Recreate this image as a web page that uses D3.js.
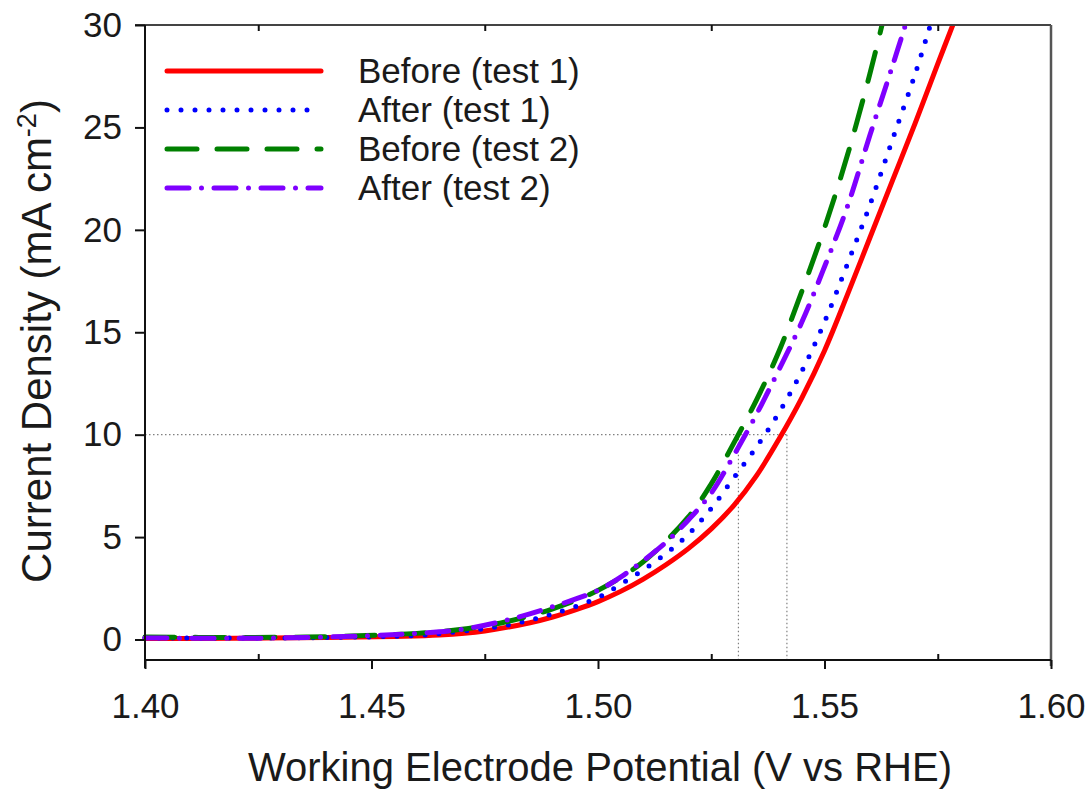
<!DOCTYPE html>
<html>
<head>
<meta charset="utf-8">
<script src="https://cdn.jsdelivr.net/npm/d3@7"></script>
<style>
  html, body { margin: 0; padding: 0; background: #fff; }
  svg { display: block; font-family: "Liberation Sans", Arial, sans-serif; }
</style>
</head>
<body>
<svg id="chart" width="1088" height="791"></svg>
<script>
// Polarisation curves: potential (V vs RHE) and current density (mA cm^-2)
const seriesNames = ["Before (test 1)", "After (test 1)", "Before (test 2)", "After (test 2)"];
const seriesColors = ["#ff0000", "#0000ff", "#008000", "#7f00ff"];

const beforeTest1V = [1.400, 1.420, 1.440, 1.455, 1.465, 1.475, 1.485, 1.490, 1.495, 1.500, 1.505, 1.510, 1.515, 1.520, 1.525, 1.530, 1.535, 1.540, 1.545, 1.550, 1.555, 1.560, 1.565, 1.570, 1.575, 1.5785];
const beforeTest1J = [0.05, 0.06, 0.10, 0.15, 0.22, 0.42, 0.82, 1.10, 1.45, 1.85, 2.35, 2.95, 3.65, 4.45, 5.40, 6.55, 8.00, 9.80, 11.8, 14.1, 16.8, 19.6, 22.4, 25.2, 28.1, 30.1];

const afterTest1V = [1.400, 1.420, 1.440, 1.460, 1.470, 1.480, 1.490, 1.500, 1.505, 1.510, 1.515, 1.520, 1.525, 1.530, 1.535, 1.540, 1.545, 1.550, 1.555, 1.560, 1.565, 1.570, 1.5735];
const afterTest1J = [0.08, 0.07, 0.10, 0.20, 0.40, 0.70, 1.25, 2.05, 2.70, 3.40, 4.20, 5.15, 6.40, 7.90, 9.40, 11.1, 13.1, 15.5, 18.3, 21.2, 24.4, 27.6, 30.1];

const beforeTest2V = [1.400, 1.420, 1.440, 1.460, 1.470, 1.480, 1.490, 1.500, 1.510, 1.520, 1.525, 1.530, 1.535, 1.540, 1.545, 1.550, 1.555, 1.560, 1.5628];
const beforeTest2J = [0.12, 0.10, 0.14, 0.30, 0.50, 0.88, 1.50, 2.40, 3.80, 6.00, 7.60, 9.60, 11.7, 14.1, 17.0, 20.1, 23.6, 27.6, 30.1];

const afterTest2V = [1.400, 1.420, 1.440, 1.460, 1.470, 1.480, 1.490, 1.500, 1.505, 1.510, 1.515, 1.520, 1.525, 1.530, 1.535, 1.540, 1.545, 1.550, 1.555, 1.560, 1.565, 1.568];
const afterTest2J = [0.08, 0.06, 0.12, 0.30, 0.50, 0.95, 1.60, 2.40, 3.05, 3.85, 4.75, 5.85, 7.15, 9.00, 11.0, 13.2, 15.5, 18.2, 21.1, 24.6, 28.0, 30.1];

// Potentials read at 10 mA cm^-2
const refPotentials = [1.531, 1.5417];
const refCurrent = 10;

const xTicks = [1.40, 1.45, 1.50, 1.55, 1.60];
const xMinorTicks = [1.425, 1.475, 1.525, 1.575];
const yTicks = [0, 5, 10, 15, 20, 25, 30];

const seriesV = [beforeTest1V, afterTest1V, beforeTest2V, afterTest2V];
const seriesJ = [beforeTest1J, afterTest1J, beforeTest2J, afterTest2J];
const dashes = [null, "0 14", "30 20", "22 12.5 0 12.5"];

const svg = d3.select("#chart");
const plotL = 145, plotR = 1051, plotT = 25, plotB = 660;

const x = d3.scaleLinear().domain([1.40, 1.60]).range([plotL, plotR]);
const y = d3.scaleLinear().domain([-1, 30]).range([plotB, plotT]);

svg.append("defs").append("clipPath").attr("id", "plot")
  .append("rect").attr("x", plotL - 8).attr("y", plotT).attr("width", plotR - plotL + 8).attr("height", plotB - plotT);

// Dotted guide lines at 10 mA cm^-2
const guides = svg.append("g").attr("stroke", "#808080").attr("stroke-width", 1.2).attr("stroke-dasharray", "1.5 2.5");
guides.append("line")
  .attr("x1", x(1.40)).attr("x2", x(d3.max(refPotentials)))
  .attr("y1", y(refCurrent)).attr("y2", y(refCurrent));
guides.selectAll("line.v").data(refPotentials).join("line").attr("class", "v")
  .attr("x1", d => x(d)).attr("x2", d => x(d))
  .attr("y1", y(refCurrent)).attr("y2", plotB);

// Curves
const line = d3.line().x(d => x(d[0])).y(d => y(d[1])).curve(d3.curveCatmullRom.alpha(0.5));
const curves = svg.append("g").attr("clip-path", "url(#plot)");
seriesV.forEach((vs, i) => {
  const pts = vs.map((v, k) => [v, seriesJ[i][k]]);
  curves.append("path")
    .attr("d", line(pts))
    .attr("fill", "none")
    .attr("stroke", seriesColors[i])
    .attr("stroke-width", 5)
    .attr("stroke-linecap", "round")
    .attr("stroke-linejoin", "round")
    .attr("stroke-dasharray", dashes[i]);
});

// Frame
const frame = svg.append("g").attr("fill", "none");
frame.append("line").attr("x1", plotL - 10).attr("x2", plotR).attr("y1", plotT).attr("y2", plotT).attr("stroke", "#444").attr("stroke-width", 2);
frame.append("line").attr("x1", plotR).attr("x2", plotR).attr("y1", plotT).attr("y2", plotB + 6).attr("stroke", "#555").attr("stroke-width", 2.5);
frame.append("line").attr("x1", plotL).attr("x2", plotR).attr("y1", plotB).attr("y2", plotB).attr("stroke", "#111").attr("stroke-width", 2);
frame.append("line").attr("x1", plotL).attr("x2", plotL).attr("y1", plotT).attr("y2", plotB + 8).attr("stroke", "#111").attr("stroke-width", 2);

// Bottom axis
const xAxis = d3.axisBottom(x).tickValues(xTicks).tickFormat(d3.format(".2f")).tickSize(9).tickPadding(24);
const gx = svg.append("g").attr("transform", `translate(0,${plotB})`).call(xAxis);
gx.select(".domain").remove();
gx.selectAll(".tick line").attr("stroke", "#111").attr("stroke-width", 2);
gx.selectAll(".tick text").attr("font-size", 35).attr("fill", "#1a1a1a").attr("font-family", "Liberation Sans, Arial, sans-serif");

const gxMinor = svg.append("g").attr("transform", `translate(0,${plotB})`)
  .call(d3.axisTop(x).tickValues(xMinorTicks).tickSize(6).tickFormat(""));
gxMinor.select(".domain").remove();
gxMinor.selectAll(".tick line").attr("stroke", "#111").attr("stroke-width", 2);

const gxTop = svg.append("g").attr("transform", `translate(0,${plotT})`)
  .call(d3.axisBottom(x).tickValues(xMinorTicks).tickSize(6).tickFormat(""));
gxTop.select(".domain").remove();
gxTop.selectAll(".tick line").attr("stroke", "#111").attr("stroke-width", 2);

// Left axis
const yAxis = d3.axisLeft(y).tickValues(yTicks).tickSize(10).tickPadding(13);
const gy = svg.append("g").attr("transform", `translate(${plotL},0)`).call(yAxis);
gy.select(".domain").remove();
gy.selectAll(".tick line").attr("stroke", "#111").attr("stroke-width", 2);
gy.selectAll(".tick text").attr("font-size", 35).attr("fill", "#1a1a1a").attr("font-family", "Liberation Sans, Arial, sans-serif");

// Axis titles
svg.append("text")
  .attr("x", (plotL + plotR) / 2 + 2).attr("y", 781)
  .attr("text-anchor", "middle").attr("font-size", 40).attr("fill", "#1a1a1a")
  .text("Working Electrode Potential (V vs RHE)");

const yTitle = svg.append("text")
  .attr("transform", "translate(51,341) rotate(-90)")
  .attr("text-anchor", "middle").attr("font-size", 42).attr("fill", "#1a1a1a");
yTitle.append("tspan").text("Current Density (mA cm");
yTitle.append("tspan").attr("font-size", 27).attr("dy", -15).text("-2");
yTitle.append("tspan").attr("dy", 15).text(")");

// Legend
const legend = svg.append("g");
seriesNames.forEach((name, i) => {
  const ly = 71 + i * 39;
  legend.append("line")
    .attr("x1", 167).attr("x2", 321).attr("y1", ly).attr("y2", ly)
    .attr("stroke", seriesColors[i]).attr("stroke-width", 5)
    .attr("stroke-linecap", "round").attr("stroke-dasharray", dashes[i]);
  legend.append("text")
    .attr("x", 358).attr("y", ly + 12)
    .attr("font-size", 35).attr("fill", "#1a1a1a")
    .text(name);
});
</script>
</body>
</html>
